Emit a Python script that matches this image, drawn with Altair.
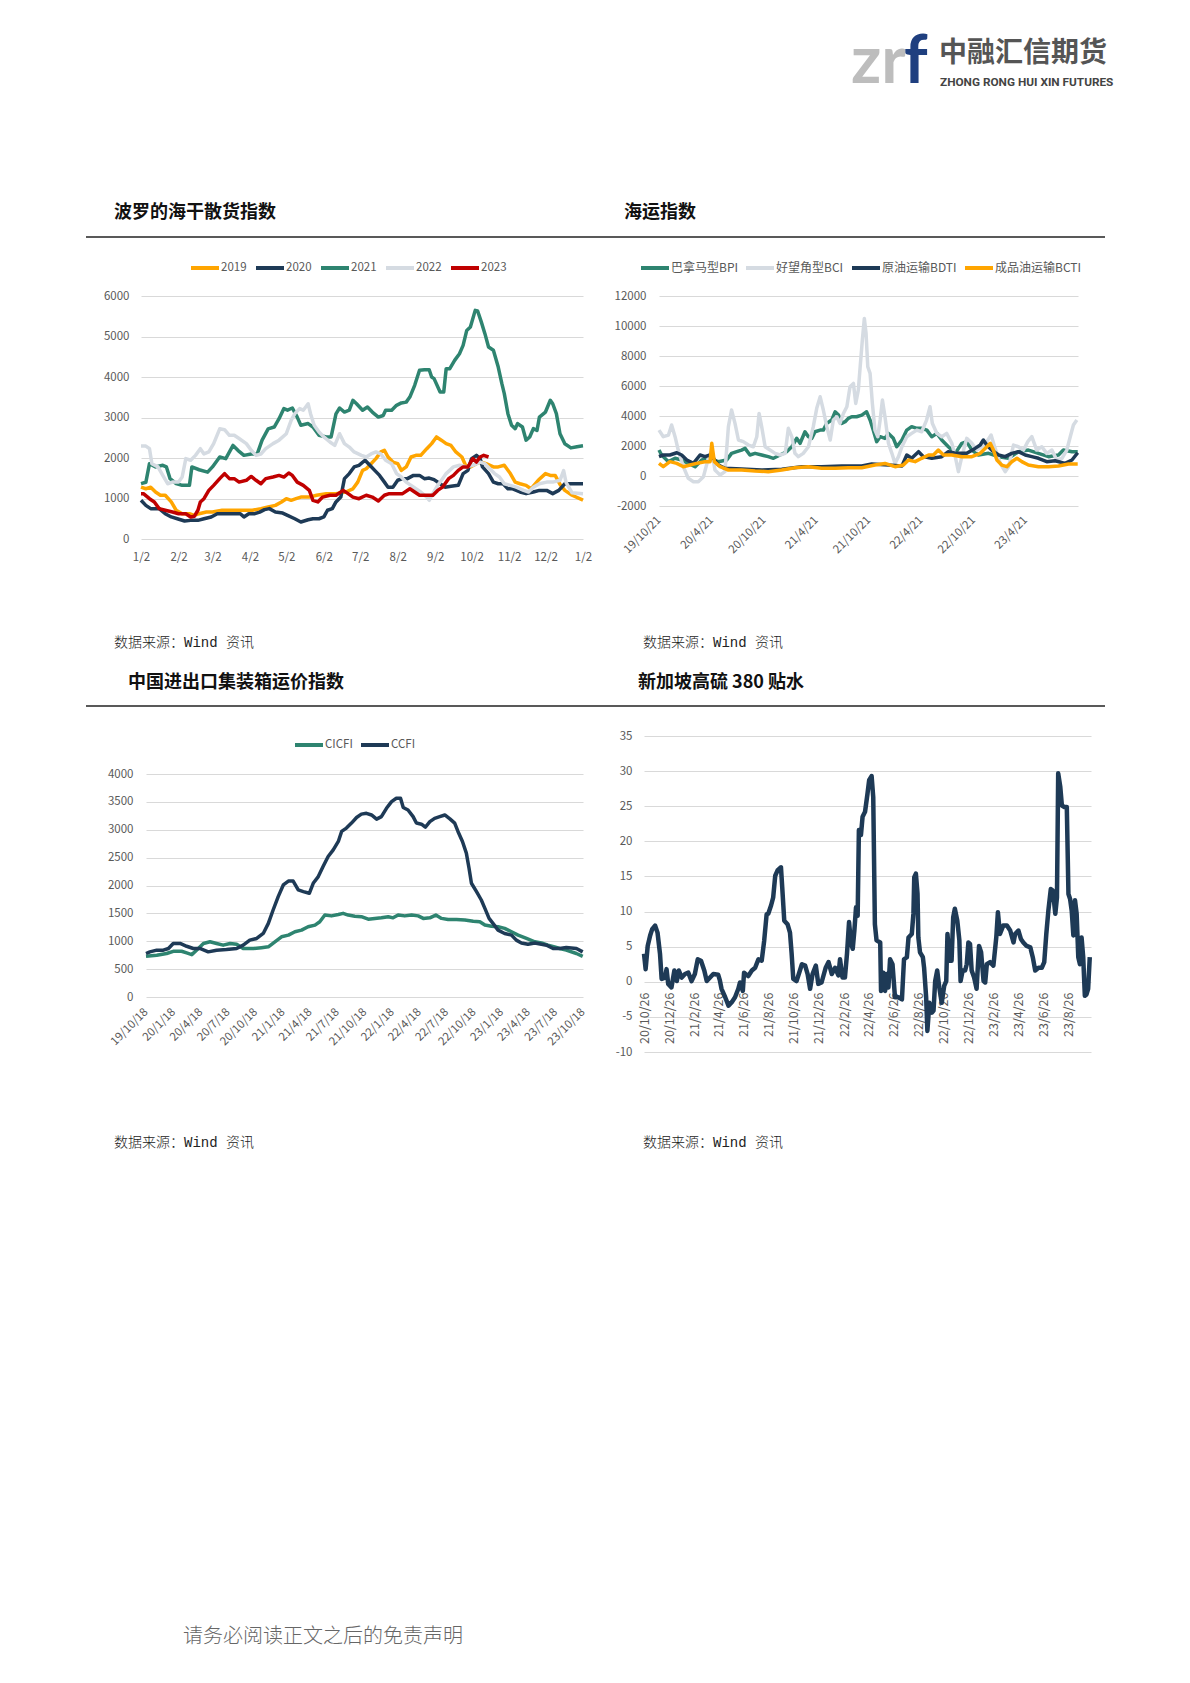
import altair as alt
import pandas as pd

W = 1174
H = 1650
FONT = "Noto Sans CJK SC"
LAB = "#595959"
GRID = "#d9d9d9"

ORANGE = "#ffa500"
NAVY = "#1e3a56"
GREEN = "#2e8470"
LGRAY = "#d5dbe2"
RED = "#c00000"

# ---------------- Chart 1: BDI by calendar year (days since Jan 2) ----------------
bdi2019_day = [0,4,8,12,16,20,25,29,34,40,44,48,54,59,67,76,84,92,99,105,111,116,120,124,128,132,139,145,153,161,169,175,179,183,186,190,194,198,201,204,208,212,215,219,223,227,231,236,240,244,248,252,256,260,265,268,272,277,281,285,291,295,300,305,309,313,318,322,328,334,338,342,346,350,356,365]
bdi2019_val = [1280,1240,1280,1160,1080,1080,915,710,625,625,585,625,665,665,710,710,710,710,750,790,830,915,995,955,995,1035,1035,1080,1120,1120,1160,1240,1405,1695,1735,1860,1985,2150,2190,2025,1900,1860,1695,1780,2025,2065,2065,2230,2355,2520,2440,2355,2310,2150,2025,1820,1780,1860,1900,1860,1780,1780,1820,1615,1405,1365,1325,1240,1450,1615,1570,1570,1350,1200,1080,960]

bdi2020_day = [0,4,8,15,20,25,30,36,41,47,52,58,63,70,78,82,85,89,94,98,102,106,111,117,121,127,132,138,142,147,151,154,158,161,165,168,172,176,180,185,189,193,197,201,204,208,212,216,220,225,230,234,238,242,247,251,256,262,266,270,273,277,280,282,287,291,295,299,303,307,313,318,324,329,335,340,345,350,357,365]
bdi2020_val = [955,830,750,750,625,545,500,445,460,460,500,545,625,625,625,625,545,625,625,665,725,750,665,640,585,500,420,475,500,500,545,710,750,915,1035,1490,1615,1780,1820,1945,1820,1695,1570,1405,1280,1280,1450,1490,1490,1570,1570,1490,1505,1465,1365,1280,1300,1325,1615,1695,1985,2065,1985,1780,1615,1405,1365,1365,1240,1240,1160,1120,1160,1200,1200,1120,1200,1365,1365,1365]

bdi2021_day = [0,4,7,12,18,21,24,29,34,40,42,48,55,59,65,70,76,80,85,91,96,100,105,110,114,118,121,125,129,132,138,142,147,153,157,161,164,168,172,175,178,183,187,191,196,200,202,207,211,215,219,222,226,230,234,238,240,242,247,250,252,255,259,263,266,269,272,276,278,281,284,287,291,295,298,300,303,306,309,311,315,318,321,324,327,329,334,338,340,343,346,350,355,360,365]
bdi2021_val = [1366,1400,1860,1780,1820,1780,1490,1370,1325,1325,1780,1710,1650,1780,2025,1985,2310,2190,2065,2100,2100,2440,2720,2765,2970,3220,3180,3235,3010,2810,2850,2765,2560,2520,2520,3090,3235,3135,3180,3425,3340,3180,3260,3135,3010,3050,3180,3180,3300,3360,3380,3505,3795,4165,4180,4180,4000,3960,3630,3630,4205,4205,4410,4575,4780,5150,5235,5645,5630,5360,5070,4740,4660,4245,3835,3590,3095,2810,2725,2850,2765,2440,2520,2725,2680,3010,3135,3425,3340,3095,2600,2350,2250,2280,2300]

bdi2022_day = [0,4,7,9,14,18,22,26,31,34,37,41,45,49,52,56,60,65,69,73,77,81,87,91,95,99,103,109,114,120,124,127,131,134,138,140,143,147,151,156,160,164,168,172,176,182,186,190,194,198,202,207,211,215,219,223,227,231,236,238,241,245,249,252,258,263,269,274,280,284,288,292,296,300,305,310,316,320,324,329,335,340,346,349,351,356,365]
bdi2022_val = [2295,2295,2230,1860,1780,1570,1365,1405,1405,1530,1985,1945,2065,2230,2100,2150,2355,2720,2700,2560,2560,2480,2355,2190,2065,2100,2230,2355,2440,2600,2930,3095,3220,3180,3340,3095,2810,2640,2520,2395,2310,2600,2355,2270,2150,2065,2025,2100,2150,2100,1945,1860,1615,1530,1405,1325,1240,1160,1035,955,1120,1325,1490,1615,1780,1820,1780,1820,1900,1860,1735,1615,1530,1365,1325,1280,1200,1160,1280,1365,1405,1405,1450,1690,1400,1140,1120]

bdi2023_day = [0,2,7,11,15,20,26,31,37,41,44,47,49,52,56,60,65,69,73,77,81,87,91,95,99,103,109,114,118,122,125,129,134,139,142,146,150,156,161,167,171,175,180,186,191,196,201,205,211,216,222,226,230,236,241,245,249,254,258,262,266,270,274,277,280,283,287]
bdi2023_val = [1120,1120,995,915,750,710,665,625,625,545,560,710,915,995,1200,1325,1490,1615,1490,1490,1405,1450,1545,1450,1365,1490,1530,1570,1530,1630,1570,1405,1325,1200,955,915,1035,1080,1080,1200,1120,1035,995,1080,1035,940,1080,1120,1120,1120,1240,1160,1080,1080,1080,1200,1280,1490,1570,1695,1780,1780,1985,1900,2025,2065,2025]

bdi_names = ["2019", "2020", "2021", "2022", "2023"]
bdi_colors = [ORANGE, NAVY, GREEN, LGRAY, RED]

# ---------------- Chart 2: shipping indices (days since 2019-10-21) ----------------
bpi_day = [0,9,33,56,79,102,126,149,172,207,236,253,271,288,300,317,335,358,381,399,422,445,463,480,492,509,521,533,544,562,573,585,602,614,626,637,649,660,672,689,707,724,736,747,759,771,788,800,817,829,847,864,881,899,916,934,951,969,986,1009,1033,1056,1073,1091,1114,1149,1184,1219,1253,1288,1323,1358,1393,1410,1440,1460]
bpi_val = [1730,1400,955,1180,1065,840,620,1065,1180,955,1065,1510,1620,1730,1840,1400,1510,1400,1290,1180,1400,1620,1950,2510,2180,2950,2620,2510,2950,3060,3060,3510,3730,4280,4060,3510,3620,3840,3950,3950,4060,4280,3730,3060,2290,2620,2510,2840,2510,1950,2400,3060,3290,3180,3180,3060,2620,2840,2400,1950,1510,2180,2290,1730,1400,1510,1290,1180,1620,1730,1510,1290,1400,1730,1620,1620]

bci_day = [0,15,33,44,56,67,85,102,120,137,155,172,184,195,213,230,242,253,265,277,294,312,329,341,349,358,370,387,405,422,440,451,463,474,486,503,521,538,550,562,573,585,597,608,620,631,643,655,666,678,686,695,701,709,716,722,728,736,744,753,763,771,779,788,800,812,823,835,847,864,881,899,916,933,945,953,969,986,1003,1021,1033,1044,1056,1073,1091,1108,1126,1143,1158,1172,1190,1207,1219,1236,1253,1271,1286,1300,1317,1335,1352,1370,1387,1405,1422,1434,1445,1457]
bci_val = [3060,2620,2730,3400,2620,1730,620,-155,-380,-380,-45,1180,1730,400,67,290,3290,4400,3510,2400,2290,2065,1950,2620,4170,3290,1950,1730,1510,1400,1510,3180,2620,1510,1290,1510,1950,3290,4510,5280,4400,3290,2400,3730,3950,3510,4170,4620,5950,6170,4840,5730,7170,9060,10500,9500,7280,6840,4840,3060,2620,3730,5060,3950,2180,1510,840,1290,1950,2620,2840,3060,2950,3730,4620,3510,2840,2620,2840,2180,1290,290,1290,2510,2180,1730,1950,2290,2730,1840,840,290,620,2065,1950,1730,2290,2620,1730,1950,1510,1730,1065,1180,1730,2620,3400,3730]

bdti_day = [0,15,38,62,79,97,120,143,160,178,190,207,230,288,358,428,498,567,637,707,742,800,847,864,881,905,922,951,986,1009,1038,1073,1102,1120,1131,1143,1160,1184,1207,1230,1253,1277,1300,1323,1352,1381,1416,1440,1460]
bdti_val = [1290,1400,1400,1550,1400,1065,840,1400,1290,1400,1180,730,510,466,400,444,620,620,666,666,800,730,666,1400,1180,1620,1290,1180,1290,1620,1510,1510,1840,2065,2400,2065,1730,1400,1290,1510,1620,1400,1290,1180,955,1020,840,1065,1550]

bcti_day = [0,15,38,62,85,108,131,160,178,184,193,213,242,288,335,381,428,474,521,567,614,660,707,753,788,823,852,870,893,916,940,957,974,992,1021,1056,1091,1120,1137,1155,1166,1178,1195,1213,1230,1248,1265,1288,1323,1358,1393,1428,1460]
bcti_val = [840,620,955,840,620,730,840,955,955,2180,955,620,400,400,333,290,400,555,620,510,510,555,555,730,840,620,730,1065,955,1180,1400,1400,1730,1400,1400,1290,1290,1510,1840,2180,1730,1065,730,620,955,1180,955,730,620,620,666,800,800]

ship_names = ["巴拿马型BPI", "好望角型BCI", "原油运输BDTI", "成品油运输BCTI"]
ship_colors = [GREEN, LGRAY, NAVY, ORANGE]

# ---------------- Chart 3: container freight (days since 2019-10-18) ----------------
cicfi_day = [0,36,69,91,119,136,153,169,192,214,236,258,281,303,325,359,386,409,431,453,476,498,520,542,565,581,598,620,643,659,676,698,720,743,765,787,810,826,843,865,888,910,927,949,969,988,1010,1038,1066,1094,1116,1133,1155,1177,1199,1222,1244,1272,1300,1322,1344,1366,1383,1405,1439,1460]
cicfi_val = [730,750,780,820,820,790,760,840,960,990,960,930,960,945,870,870,885,900,990,1080,1110,1170,1200,1260,1290,1350,1470,1455,1480,1500,1470,1450,1440,1395,1410,1420,1440,1420,1470,1455,1470,1455,1410,1420,1470,1410,1390,1390,1380,1360,1350,1290,1270,1260,1230,1170,1110,1050,990,970,930,900,870,840,780,730]

ccfi_day = [0,13,36,58,75,91,114,136,158,180,208,236,269,303,325,347,370,392,409,425,442,459,476,492,509,526,546,559,576,592,609,626,643,654,670,687,704,720,737,754,771,787,804,821,837,851,860,876,893,904,921,934,949,965,982,999,1016,1032,1043,1058,1071,1080,1088,1105,1121,1133,1147,1160,1177,1199,1222,1238,1255,1277,1300,1322,1339,1361,1383,1405,1439,1460]
ccfi_val = [780,810,840,840,870,960,960,910,870,870,810,840,850,870,930,1020,1050,1140,1320,1560,1800,2010,2080,2080,1920,1890,1860,2040,2160,2340,2520,2640,2790,2970,3030,3120,3220,3280,3295,3265,3190,3235,3385,3505,3565,3565,3400,3355,3235,3120,3100,3045,3145,3205,3235,3265,3195,3120,2970,2790,2580,2310,2040,1890,1740,1590,1410,1320,1200,1140,1110,1020,970,945,970,945,930,870,870,886,870,810]

box_names = ["CICFI", "CCFI"]
box_colors = [GREEN, NAVY]

# ---------------- Chart 4: Singapore HSFO 380 spread (days since 2020-10-26) ----------------
hsfo_day = [0,4,9,15,20,27,33,39,43,51,55,59,67,74,80,85,92,100,108,116,124,131,139,147,153,161,169,181,185,189,198,206,214,222,230,234,241,244,254,263,271,279,287,293,299,303,310,315,320,326,334,337,342,350,356,360,364,372,385,393,399,405,411,419,425,433,443,450,458,466,474,478,484,490,495,500,505,509,513,517,521,524,529,533,539,545,549,555,559,563,567,576,578,584,588,592,596,600,606,612,620,629,634,641,645,653,657,659,663,667,669,673,680,683,688,691,696,702,706,710,715,720,726,732,737,740,745,750,754,758,764,769,772,777,783,787,791,795,799,805,811,817,822,828,832,836,844,852,859,863,868,876,885,893,901,905,913,919,925,933,942,948,954,962,970,976,981,986,992,997,1003,1007,1010,1015,1019,1025,1031,1035,1039,1043,1047,1051,1055,1059,1063,1067,1071,1075,1079,1083,1087]
hsfo_val = [4.0,1.8,5.1,6.6,7.5,8.0,7.0,4.0,0.4,0.6,1.8,-0.3,-0.8,1.6,0.1,1.6,0.6,1.1,1.3,0.1,1.1,3.2,3.0,1.6,0.1,0.6,1.1,1.0,0.2,-1.0,-2.2,-3.4,-2.9,-2.2,-1.0,-0.1,-1.3,1.3,0.8,1.6,2.0,3.2,3.0,5.8,9.6,9.7,10.9,12.0,15.1,15.9,16.3,13.5,8.7,8.2,7.0,4.0,0.4,0.1,2.5,2.3,1.1,-1.0,1.1,2.3,-0.3,-0.1,2.0,2.8,1.1,2.0,0.9,3.2,0.6,0.6,4.0,8.5,5.4,4.7,7.3,10.6,9.4,21.6,20.9,23.5,24.2,26.8,28.7,29.3,26.3,8.2,5.9,5.6,-1.3,1.3,-1.3,1.1,-0.8,3.2,2.5,-2.2,-2.2,-2.5,3.2,3.5,6.3,6.8,9.7,14.9,15.4,12.5,6.3,4.2,3.5,2.0,-2.2,-7.0,-3.0,-4.4,-4.1,0.1,1.6,-0.8,-3.0,-0.6,0.1,6.8,3.0,3.0,9.2,10.4,8.7,5.9,0.1,1.6,1.6,2.5,5.6,5.4,1.6,0.6,-1.0,5.1,4.2,0.1,-0.1,2.5,2.8,2.3,6.3,9.9,6.8,8.0,8.0,7.3,5.6,6.8,7.3,6.1,5.6,5.1,4.9,3.5,1.6,2.0,2.0,2.8,6.8,10.1,13.2,13.0,9.7,12.0,29.7,27.8,25.1,24.9,24.9,12.5,11.8,10.1,6.6,11.6,9.7,3.5,2.5,6.3,3.5,-2.0,-1.8,-1.0,3.5]


def frame(start, series):
    base = pd.Timestamp(start)
    rows = []
    for name, days, vals in series:
        for d, v in zip(days, vals):
            rows.append({"date": (base + pd.Timedelta(days=d)).strftime("%Y-%m-%dT%H:%M:%S"),
                         "series": name, "value": v})
    return pd.DataFrame(rows)


def dt(y, m, d):
    return alt.DateTime(year=y, month=m, date=d)


def month_seq(y, m, d, step, count):
    out = []
    for i in range(count):
        mm = m - 1 + i * step
        out.append(dt(y + mm // 12, mm % 12 + 1, d))
    return out


def x_axis(axis_y, values, fmt, angle, pad, align, baseline, size=11.5):
    return alt.Axis(orient="bottom", offset=axis_y - H, values=values, format=fmt,
                    labelAngle=angle, labelAlign=align, labelBaseline=baseline,
                    labelPadding=pad, grid=False, domain=False, ticks=False, tickSize=0,
                    labelFlush=False, labelOverlap=False, labelFont=FONT,
                    labelFontSize=size, labelColor=LAB, title=None)


def y_axis(axis_x, values, pad):
    return alt.Axis(orient="left", offset=-axis_x, values=values, grid=True,
                    gridColor=GRID, gridWidth=1.2, domain=False, ticks=False, tickSize=0,
                    labelPadding=pad, labelFont=FONT, labelFontSize=11.5,
                    labelExpr="datum.value + ''",
                    labelColor=LAB, title=None, labelOverlap=False, labelFlush=False)


def legend(x, y, colpad, size=11.5):
    return alt.Legend(orient="none", legendX=x, legendY=y, direction="horizontal",
                      title=None, symbolType="stroke", symbolStrokeWidth=4,
                      symbolSize=784, labelFont=FONT, labelFontSize=size,
                      labelColor=LAB, columnPadding=colpad, labelOffset=0, padding=0)


df1 = frame("2021-01-02", [
    ("2019", bdi2019_day, bdi2019_val),
    ("2020", bdi2020_day, bdi2020_val),
    ("2021", bdi2021_day, bdi2021_val),
    ("2022", bdi2022_day, bdi2022_val),
    ("2023", bdi2023_day, bdi2023_val),
])
df2 = frame("2019-10-21", [
    (ship_names[0], bpi_day, bpi_val),
    (ship_names[1], bci_day, bci_val),
    (ship_names[2], bdti_day, bdti_val),
    (ship_names[3], bcti_day, bcti_val),
])
df3 = frame("2019-10-18", [
    (box_names[0], cicfi_day, cicfi_val),
    (box_names[1], ccfi_day, ccfi_val),
])
df4 = frame("2020-10-26", [("spread", hsfo_day, hsfo_val)])

c1 = alt.Chart(df1).mark_line(strokeWidth=3.5, strokeJoin="round").encode(
    x=alt.X("date:T", scale=alt.Scale(domain=[dt(2021, 1, 2), dt(2022, 1, 2)], range=[133, 575], nice=False),
            axis=x_axis(531, month_seq(2021, 1, 2, 1, 13), "%-m/%-d", 0, 12, "center", "top")),
    y=alt.Y("value:Q", scale=alt.Scale(domain=[0, 6000], range=[531, 288], nice=False, zero=False),
            axis=y_axis(133, list(range(0, 6001, 1000)), 12)),
    color=alt.Color("series:N", scale=alt.Scale(domain=bdi_names, range=bdi_colors),
                    legend=legend(181, 244, 1)),
)

c2 = alt.Chart(df2).mark_line(strokeWidth=3.5, strokeJoin="round").encode(
    x=alt.X("date:T", scale=alt.Scale(domain=[dt(2019, 10, 21), dt(2023, 10, 21)], range=[651, 1070], nice=False),
            axis=x_axis(498, month_seq(2019, 10, 21, 6, 8), "%y/%-m/%-d", -45, 12, "right", "middle")),
    y=alt.Y("value:Q", scale=alt.Scale(domain=[-2000, 12000], range=[498, 288], nice=False, zero=False),
            axis=y_axis(651, list(range(-2000, 12001, 2000)), 13)),
    color=alt.Color("series:N", scale=alt.Scale(domain=ship_names, range=ship_colors),
                    legend=legend(631, 244, 0, 12)),
)

c3 = alt.Chart(df3).mark_line(strokeWidth=3.5, strokeJoin="round").encode(
    x=alt.X("date:T", scale=alt.Scale(domain=[dt(2019, 10, 18), dt(2023, 10, 18)], range=[138, 575], nice=False),
            axis=x_axis(989, month_seq(2019, 10, 18, 3, 17), "%y/%-m/%-d", -45, 13, "right", "middle")),
    y=alt.Y("value:Q", scale=alt.Scale(domain=[0, 4000], range=[989, 766], nice=False, zero=False),
            axis=y_axis(138, list(range(0, 4001, 500)), 13)),
    color=alt.Color("series:N", scale=alt.Scale(domain=box_names, range=box_colors),
                    legend=legend(285, 721, 0)),
)

c4 = alt.Chart(df4).mark_line(strokeWidth=4.5, strokeJoin="round", color=NAVY).encode(
    x=alt.X("date:T", scale=alt.Scale(domain=[dt(2020, 10, 26), dt(2023, 10, 21)], range=[636, 1083], nice=False),
            axis=x_axis(973, month_seq(2020, 10, 26, 2, 18), "%y/%-m/%-d", -90, 11, "right", "middle", 12.5)),
    y=alt.Y("value:Q", scale=alt.Scale(domain=[-10, 35], range=[1044, 728], nice=False, zero=False),
            axis=y_axis(636, list(range(-10, 36, 5)), 12)),
)

ONE = pd.DataFrame({"k": [0]})


def label(text, x, y, size, weight="normal", color="#111111", font=FONT, align="left", baseline="middle"):
    return alt.Chart(ONE).mark_text(text=text, font=font, fontSize=size, fontWeight=weight,
                                    color=color, align=align, baseline=baseline).encode(
        x=alt.value(x), y=alt.value(y))


def hrule(x1, x2, y):
    return alt.Chart(ONE).mark_rule(color="#222222", strokeWidth=1.3).encode(
        x=alt.value(x1), x2=alt.value(x2), y=alt.value(y))


SRC_FONT = "Liberation Mono, Noto Sans CJK SC"
texts = [
    label("波罗的海干散货指数", 106, 205, 18, "bold"),
    label("海运指数", 616, 205, 18, "bold"),
    label("中国进出口集装箱运价指数", 120, 675, 18, "bold"),
    label("新加坡高硫 380 贴水", 630, 675, 18, "bold"),
    label("数据来源：Wind 资讯", 106, 635, 14, 300, "#222222", SRC_FONT),
    label("数据来源：Wind 资讯", 635, 635, 14, 300, "#222222", SRC_FONT),
    label("数据来源：Wind 资讯", 106, 1135, 14, 300, "#222222", SRC_FONT),
    label("数据来源：Wind 资讯", 635, 1135, 14, 300, "#222222", SRC_FONT),
    label("请务必阅读正文之后的免责声明", 175, 1629, 20, 300, "#666666"),
    label("zr", 898, 75, 66, "bold", "#bdbdbd", "Lato", "right", "alphabetic"),
    label("f", 896, 75, 66, "bold", "#1f3f7f", "Lato", "left", "alphabetic"),
    label("中融汇信期货", 931, 46, 28, "bold", "#555555"),
    label("ZHONG RONG HUI XIN FUTURES", 932, 74, 11.8, "bold", "#444444", "Roboto"),
]

rules = [hrule(78, 1097, 229), hrule(78, 1097, 698)]

chart = alt.layer(c1, c2, c3, c4, *rules, *texts).resolve_scale(
    x="independent", y="independent", color="independent"
).resolve_axis(
    x="independent", y="independent"
).resolve_legend(
    color="independent"
).properties(
    width=W, height=H, padding=0
).configure_view(strokeWidth=0)

chart.save("out.html", embed_options={"renderer": "svg", "actions": False})
